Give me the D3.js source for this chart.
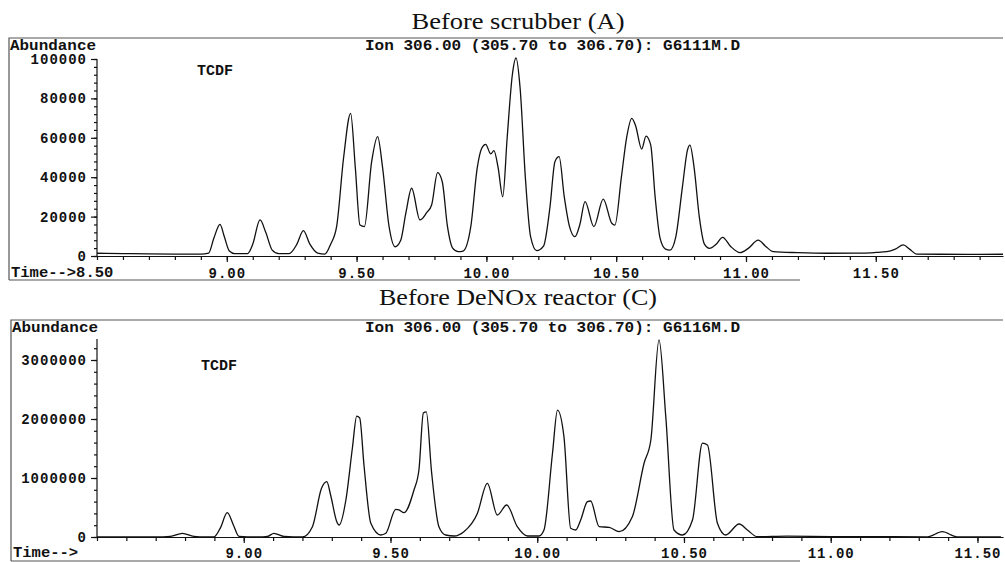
<!DOCTYPE html>
<meta charset="utf-8">
<script src="https://d3js.org/d3.v7.min.js"></script>
<style>
    body { margin: 0; background: #fff; }
    .mono { font-family: 'Liberation Mono', 'DejaVu Sans Mono', monospace; font-weight: bold; font-size: 14px; fill: #111; }
    .title { font-family: 'Liberation Serif', 'Times New Roman', serif; font-size: 24px; fill: #111; }
    .axis path, .axis line { stroke: #111; stroke-width: 1.2; }
    .axis text { font-family: 'Liberation Mono', monospace; font-weight: bold; font-size: 14px; fill: #111; letter-spacing: 1px; }
    .frame { stroke: #555; stroke-width: 1.2; fill: none; }
    .trace { fill: none; stroke: #111; stroke-width: 1.3; }
</style>
<svg id="chart" width="1005" height="562"></svg>
<script>
    // ---- data ----
    const topTime = [8.50, 8.60, 8.70, 8.80, 8.90, 8.93, 8.95, 8.974, 8.99, 9.01, 9.03, 9.08, 9.10, 9.128, 9.15, 9.175,
        9.20, 9.24, 9.27, 9.295, 9.32, 9.35, 9.378, 9.40, 9.423, 9.45, 9.477, 9.495, 9.513, 9.53, 9.558, 9.581, 9.60,
        9.625, 9.648, 9.67, 9.69, 9.712, 9.744, 9.77, 9.789, 9.812, 9.83, 9.85, 9.87, 9.892, 9.91, 9.94, 9.965, 9.982,
        9.997, 10.017, 10.029, 10.045, 10.063, 10.08, 10.10, 10.114, 10.13, 10.15, 10.17, 10.194, 10.22, 10.245,
        10.264, 10.28, 10.30, 10.32, 10.341, 10.36, 10.38, 10.414, 10.45, 10.483, 10.495, 10.52, 10.54, 10.56, 10.575,
        10.598, 10.615, 10.633, 10.65, 10.669, 10.69, 10.707, 10.73, 10.755, 10.775, 10.784, 10.80, 10.82, 10.84,
        10.859, 10.885, 10.91, 10.94, 10.977, 11.01, 11.047, 11.075, 11.105, 11.20, 11.311, 11.45, 11.50, 11.542,
        11.575, 11.606, 11.63, 11.657, 11.75, 11.85, 11.99];
    const topAbund = [1400, 1200, 1100, 1000, 1000, 1500, 9000, 16100, 10000, 2500, 1200, 1200, 6000, 18300, 12000, 3000,
        1200, 1200, 6000, 12900, 6000, 1500, 1000, 6000, 14900, 50000, 72400, 45000, 15700, 14900, 47900, 60600, 45000,
        15000, 4700, 8000, 22000, 34400, 18300, 22000, 25900, 42300, 37700, 15000, 4000, 2200, 2500, 15000, 45000, 54700,
        56700, 51800, 53500, 45000, 30100, 60000, 92000, 100500, 85000, 40000, 10000, 2700, 5000, 25000,
        47900, 50400, 30000, 15000, 9800, 16000, 27600, 14900, 28900, 16600, 15700, 40000, 60000, 69900, 66000,
        54300, 60900, 56300, 30000, 9100, 3500, 3000, 10000, 35000, 54000, 56300, 45000, 20000, 6000,
        3900, 6000, 9500, 5000, 1700, 4000, 8100, 5000, 2200, 1700, 1400, 1500, 1800, 2200,
        3500, 5600, 3500, 1000, 900, 800, 900];

    const botTime = [8.50, 8.70, 8.75, 8.791, 8.83, 8.87, 8.898, 8.92, 8.944, 8.965, 8.984, 9.05, 9.081, 9.103, 9.137,
        9.20, 9.234, 9.265, 9.283, 9.296, 9.317, 9.325, 9.348, 9.37, 9.385, 9.395, 9.41, 9.433, 9.467, 9.484, 9.518,
        9.529, 9.546, 9.58, 9.597, 9.612, 9.622, 9.64, 9.665, 9.688, 9.717, 9.75, 9.796, 9.83, 9.864, 9.896, 9.932,
        9.967, 10.006, 10.023, 10.052, 10.069, 10.091, 10.114, 10.131, 10.148, 10.171, 10.182, 10.211, 10.245, 10.279,
        10.324, 10.364, 10.387, 10.415, 10.438, 10.466, 10.495, 10.529, 10.563, 10.58, 10.614, 10.642, 10.688, 10.716,
        10.75, 10.85, 11.0, 11.2, 11.33, 11.38, 11.43, 11.5, 11.58];
    const botAbund = [0, 0, 10000, 63000, 10000, 0, 0, 150000, 412000, 200000, 10000, 0, 10000, 63000, 10000,
        0, 175000, 825000, 937000, 712000, 260000, 203000, 627000, 1500000, 2050000, 2020000, 1200000, 232000, 34000, 63000, 469000,
        458000, 412000, 797000, 1140000, 2100000, 2120000, 1100000, 175000, 34000, 17000, 90000, 400000, 910000, 373000, 542000, 175000,
        17000, 17000, 119000, 1420000, 2150000, 1700000, 147000, 119000, 288000, 598000, 610000, 175000, 164000, 90000,
        344000, 1250000, 1640000, 3340000, 2040000, 119000, 34000, 288000, 1590000, 1560000, 232000, 34000, 220000, 119000,
        5000, 15000, 8000, 5000, 3000, 90000, 3000, 0, 0];

    const topYTicks = [0, 20000, 40000, 60000, 80000, 100000];
    const botYTicks = [0, 1000000, 2000000, 3000000];
    const topXLabels = [9.0, 9.5, 10.0, 10.5, 11.0, 11.5];
    const botXLabels = [9.0, 9.5, 10.0, 10.5, 11.0, 11.5];
    const titles = ["Before scrubber (A)", "Before DeNOx reactor (C)"];
    const ionText = ["Ion 306.00 (305.70 to 306.70): G6111M.D", "Ion 306.00 (305.70 to 306.70): G6116M.D"];
</script>
<script>
    const svg = d3.select("#chart");

    const panels = [
        {
            time: topTime, abund: topAbund, yTicks: topYTicks, xLabels: topXLabels,
            xDomain: [8.5, 11.99], yDomain: [0, 100000], yRange: [256, 59], yTop: 59,
            minorY: 4000, frameTop: 38, frameBottom: 280, frameLeft: 9,
            title: titles[0], titleY: 29, titleW: 213, ion: ionText[0], textY: 50, tcdf: [197, 75],
            timeLabel: "Time-->8.50", timeY: 277, labelPad: 6
        },
        {
            time: botTime, abund: botAbund, yTicks: botYTicks, xLabels: botXLabels,
            xDomain: [8.5, 11.587], yDomain: [0, 3000000], yRange: [537, 360], yTop: 339,
            minorY: 200000, frameTop: 320, frameBottom: 561, frameLeft: 11,
            title: titles[1], titleY: 305, titleW: 278, ion: ionText[1], textY: 332, tcdf: [201, 370],
            timeLabel: "Time-->", timeY: 557, labelPad: 5
        }
    ];

    const x0 = 97, x1 = 1003;

    panels.forEach(p => {
        const x = d3.scaleLinear().domain(p.xDomain).range([x0, x1]);
        const y = d3.scaleLinear().domain(p.yDomain).range(p.yRange);
        const g = svg.append("g");

        // frame
        g.append("path").attr("class", "frame")
            .attr("d", `M${p.frameLeft},${p.frameBottom}V${p.frameTop}H${x1}`);
        g.append("line").attr("class", "frame")
            .attr("x1", p.frameLeft).attr("x2", 800)
            .attr("y1", p.frameBottom).attr("y2", p.frameBottom);

        g.append("text").attr("class", "title")
            .attr("x", 518 - p.titleW / 2).attr("y", p.titleY)
            .attr("textLength", p.titleW).attr("lengthAdjust", "spacingAndGlyphs")
            .text(p.title);

        g.append("text").attr("class", "mono")
            .attr("x", p.frameLeft + 1).attr("y", p.textY)
            .attr("textLength", 86).attr("lengthAdjust", "spacingAndGlyphs")
            .text("Abundance");
        g.append("text").attr("class", "mono")
            .attr("x", 365).attr("y", p.textY)
            .attr("textLength", 375).attr("lengthAdjust", "spacingAndGlyphs")
            .text(p.ion);
        g.append("text").attr("class", "mono")
            .attr("x", p.tcdf[0]).attr("y", p.tcdf[1])
            .attr("textLength", 36).attr("lengthAdjust", "spacingAndGlyphs")
            .text("TCDF");
        g.append("text").attr("class", "mono")
            .attr("x", p.frameLeft + 2).attr("y", p.timeY)
            .attr("textLength", p.timeLabel.length * 9.3).attr("lengthAdjust", "spacingAndGlyphs")
            .text(p.timeLabel);

        // y axis: minor then major
        const minorVals = d3.range(0, y.invert(p.yTop) + 1, p.minorY);
        g.append("g").attr("class", "axis")
            .attr("transform", `translate(${x0},0)`)
            .call(d3.axisLeft(y).tickValues(minorVals).tickSize(3).tickSizeOuter(0).tickFormat(""))
            .select(".domain").attr("d", `M0,${p.yRange[0]}V${p.yTop}`);
        g.append("g").attr("class", "axis")
            .attr("transform", `translate(${x0},0)`)
            .call(d3.axisLeft(y).tickValues(p.yTicks).tickSize(6).tickPadding(4).tickFormat(d3.format("d")))
            .call(a => a.select(".domain").remove());

        // x axis
        const xTickVals = d3.range(Math.ceil(p.xDomain[0] * 10), Math.floor(p.xDomain[1] * 10) + 1).map(v => v / 10);
        g.append("g").attr("class", "axis")
            .attr("transform", `translate(0,${p.yRange[0]})`)
            .call(d3.axisBottom(x).tickValues(xTickVals).tickSize(4).tickSizeOuter(0).tickFormat(""));
        g.append("g").attr("class", "axis")
            .attr("transform", `translate(0,${p.yRange[0]})`)
            .call(d3.axisBottom(x).tickValues(p.xLabels).tickSize(6).tickPadding(p.labelPad).tickFormat(d3.format(".2f")))
            .call(a => a.select(".domain").remove());

        // trace
        const pts = p.time.map((t, i) => [t, p.abund[i]]);
        g.append("path").attr("class", "trace")
            .attr("d", d3.line().x(d => x(d[0])).y(d => y(d[1])).curve(d3.curveMonotoneX)(pts));
    });
</script>
